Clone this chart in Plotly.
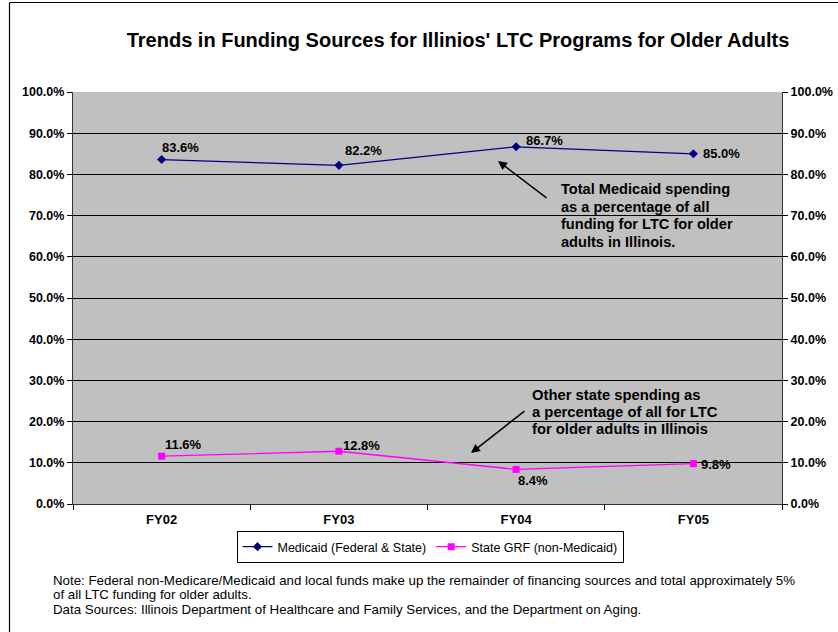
import plotly.graph_objects as go

# Fiscal years and funding shares (percent of all LTC funding for older adults)
years = ["FY02", "FY03", "FY04", "FY05"]
medicaid = [83.6, 82.2, 86.7, 85.0]
state_grf = [11.6, 12.8, 8.4, 9.8]
y_ticks = [0, 10, 20, 30, 40, 50, 60, 70, 80, 90, 100]

W, H = 838, 632
L, R, T, B = 73, 782, 92, 504  # plot-area pixel box


def px(x):
    return (x - L) / (R - L)


def py(y):
    return (B - y) / (B - T)


FONT = "Liberation Sans, Arial, sans-serif"
NAVY = "#000080"
MAGENTA = "#FF00FF"

fig = go.Figure()

fig.add_trace(go.Scatter(
    x=years, y=medicaid, name="Medicaid (Federal & State)",
    mode="lines+markers",
    line=dict(color=NAVY, width=1.3),
    marker=dict(symbol="diamond", size=7, color=NAVY),
    hoverinfo="skip",
))
fig.add_trace(go.Scatter(
    x=years, y=state_grf, name="State GRF (non-Medicaid)",
    mode="lines+markers",
    line=dict(color=MAGENTA, width=1.3),
    marker=dict(symbol="square", size=7, color=MAGENTA),
    hoverinfo="skip",
))
# carrier trace so the right-hand percentage axis is drawn
fig.add_trace(go.Scatter(
    x=years, y=medicaid, yaxis="y2", mode="lines",
    line=dict(width=0), opacity=0, showlegend=False, hoverinfo="skip",
))

# data labels: (x shift, y shift) in pixels from each point
med_offsets = [(-2, 12), (4, 15), (8, 6), (8, 0)]
grf_offsets = [(1, 12), (2, 6), (0, -11), (6, -1)]
for yr, v, (dx, dy) in zip(years, medicaid, med_offsets):
    fig.add_annotation(x=yr, y=v, text=f"<b>{v:.1f}%</b>", showarrow=False,
                       xanchor="left", yanchor="middle", xshift=dx, yshift=dy,
                       font=dict(family=FONT, size=13, color="#000000"))
for yr, v, (dx, dy) in zip(years, state_grf, grf_offsets):
    fig.add_annotation(x=yr, y=v, text=f"<b>{v:.1f}%</b>", showarrow=False,
                       xanchor="left", yanchor="middle", xshift=dx, yshift=dy,
                       font=dict(family=FONT, size=13, color="#000000"))


def text_block(lines, x0, y_first, step, size, bold=False):
    """Place left-aligned lines of text at fixed pixel spacing."""
    for i, line in enumerate(lines):
        t = f"<b>{line}</b>" if bold else line
        fig.add_annotation(
            xref="paper", yref="paper", x=px(x0), y=py(y_first + i * step),
            xanchor="left", yanchor="middle", text=t, showarrow=False,
            font=dict(family=FONT, size=size, color="#000000"),
        )


# callouts
text_block(["Total Medicaid spending", "as a percentage of all",
            "funding for LTC for older", "adults in Illinois."],
           559, 189, 17.6, 14.6, bold=True)
fig.add_annotation(
    xref="paper", yref="paper", x=px(498), y=py(161),
    ax=50, ay=38, axref="pixel", ayref="pixel",
    text="", showarrow=True, arrowhead=2, arrowsize=1.2, arrowwidth=1.5, arrowcolor="#000000",
)
text_block(["Other state spending as", "a percentage of all for LTC",
            "for older adults in Illinois"],
           530, 395, 17.2, 14.8, bold=True)
fig.add_annotation(
    xref="paper", yref="paper", x=px(471), y=py(453),
    ax=55, ay=-43, axref="pixel", ayref="pixel",
    text="", showarrow=True, arrowhead=2, arrowsize=1.2, arrowwidth=1.5, arrowcolor="#000000",
)

# footnote
text_block(["Note: Federal non-Medicare/Medicaid and local funds make up the remainder of financing sources and total approximately 5%",
            "of all LTC funding for older adults.",
            "Data Sources: Illinois Department of Healthcare and Family Services, and the Department on Aging."],
           51, 580, 14.6, 13.3)

# chart frame (left and top edges)
fig.add_shape(type="line", xref="paper", yref="paper",
              x0=px(9.5), x1=px(9.5), y0=py(2.5), y1=py(640),
              line=dict(color="#000000", width=1.2))
fig.add_shape(type="line", xref="paper", yref="paper",
              x0=px(9.5), x1=px(845), y0=py(2.5), y1=py(2.5),
              line=dict(color="#000000", width=1.2))

tick_text = [f"{t:.1f}%" for t in y_ticks]
yaxis_common = dict(
    range=[0, 100], tickvals=y_ticks, ticktext=tick_text,
    ticks="outside", ticklen=5, tickcolor="#000000",
    tickfont=dict(family=FONT, size=12.5, color="#000000", weight="bold"),
    showline=True, linecolor="#333333", linewidth=1.2,
    zeroline=False, fixedrange=True, automargin=False,
)

fig.update_layout(
    width=W, height=H,
    margin=dict(l=L, r=W - R, t=T, b=H - B, pad=0, autoexpand=False),
    paper_bgcolor="#FFFFFF",
    plot_bgcolor="#C0C0C0",
    title=dict(
        text="<b>Trends in Funding Sources for Illinios' LTC Programs for Older Adults</b>",
        x=458 / W, xanchor="center", y=1 - 40 / H, yanchor="middle",
        font=dict(family=FONT, size=20, color="#000000"),
        automargin=False,
    ),
    xaxis=dict(
        type="category", tickson="boundaries", ticks="outside", ticklen=5,
        tickcolor="#000000", showline=True, linecolor="#333333", linewidth=1.2,
        showgrid=False, range=[-0.5, 3.5], ticklabelstandoff=3,
        tickfont=dict(family=FONT, size=13, color="#000000", weight="bold"),
        mirror=False, automargin=False,
    ),
    yaxis=dict(**yaxis_common, showgrid=True, gridcolor="#000000", gridwidth=1),
    yaxis2=dict(**yaxis_common, overlaying="y", side="right", showgrid=False),
    showlegend=True,
    legend=dict(
        orientation="h", xref="paper", yref="paper",
        x=px(430), xanchor="center", y=py(547), yanchor="middle",
        bordercolor="#000000", borderwidth=1, bgcolor="#FFFFFF",
        font=dict(family=FONT, size=12.5, color="#000000"),
        itemwidth=30, tracegroupgap=0,
    ),
)

fig.write_html("out.html")
